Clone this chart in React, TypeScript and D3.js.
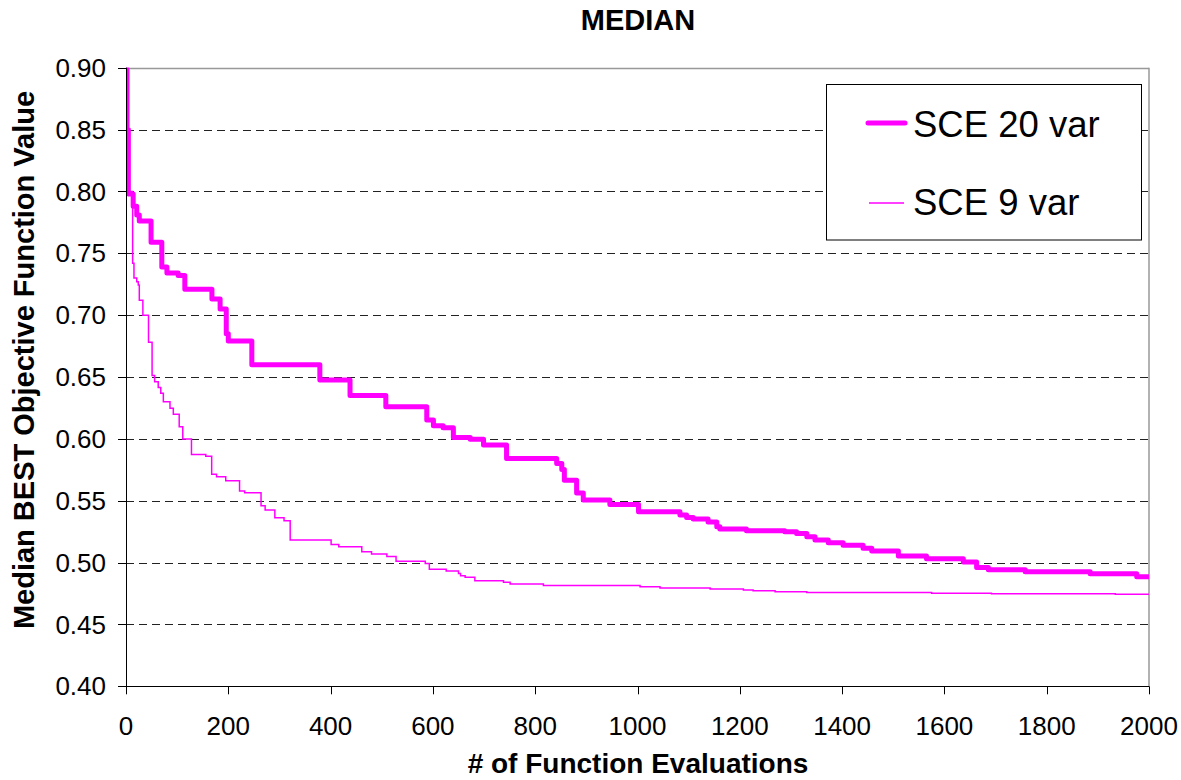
import React from "react";
import * as d3 from "d3";

// SCE 20 var: step starts (evaluations) and median best values
const sce20X = [0, 2, 4.6, 14, 21, 26, 49, 70, 80, 102, 115, 168, 184, 196, 200, 246, 379, 438, 508, 588, 601, 620, 640, 673, 699, 744, 842, 852, 857, 881, 894, 946, 1002, 1083, 1096, 1109, 1138, 1155, 1161, 1213, 1288, 1311, 1331, 1347, 1373, 1402, 1441, 1458, 1510, 1565, 1637, 1663, 1686, 1758, 1885, 1976, 2000];
const sce20Y = [0.9, 0.85, 0.798, 0.788, 0.781, 0.776, 0.759, 0.739, 0.734, 0.732, 0.721, 0.713, 0.705, 0.685, 0.679, 0.66, 0.6475, 0.635, 0.626, 0.6152, 0.6106, 0.609, 0.6012, 0.5996, 0.595, 0.5842, 0.58, 0.5753, 0.5666, 0.5562, 0.5505, 0.547, 0.541, 0.5384, 0.5365, 0.5352, 0.5328, 0.529, 0.5271, 0.5257, 0.525, 0.5236, 0.5209, 0.5182, 0.516, 0.5141, 0.5115, 0.5093, 0.5053, 0.5031, 0.5004, 0.4961, 0.4942, 0.4926, 0.491, 0.4885, 0.4885];

// SCE 9 var
const sce9X = [0, 4, 13, 15.6, 21, 24, 26, 33, 44, 51, 56, 63, 68, 73, 86, 92.5, 104, 111, 128, 156, 167.5, 177, 195, 222, 232, 264, 272, 291, 309, 321, 401, 416, 461, 480, 510, 528, 585, 593, 626, 650, 654, 663, 682, 738, 751, 816, 1005, 1044, 1142, 1207, 1226, 1269, 1331, 1575, 1692, 1934, 2000];
const sce9Y = [0.9, 0.8, 0.742, 0.73, 0.727, 0.7243, 0.712, 0.7, 0.678, 0.6512, 0.6462, 0.6416, 0.6368, 0.63, 0.6247, 0.6198, 0.6098, 0.5999, 0.5874, 0.586, 0.5713, 0.5694, 0.5661, 0.5578, 0.5564, 0.5459, 0.5424, 0.5362, 0.5338, 0.5182, 0.5147, 0.5128, 0.5087, 0.5069, 0.505, 0.5011, 0.4993, 0.4947, 0.4931, 0.4912, 0.4894, 0.4881, 0.4853, 0.4842, 0.4826, 0.4815, 0.4804, 0.4794, 0.4786, 0.4778, 0.4772, 0.4764, 0.4759, 0.4753, 0.4748, 0.4745, 0.4745];

const xTicks = [0, 200, 400, 600, 800, 1000, 1200, 1400, 1600, 1800, 2000];
const yTicks = [0.4, 0.45, 0.5, 0.55, 0.6, 0.65, 0.7, 0.75, 0.8, 0.85, 0.9];

const seriesNames = ["SCE 20 var", "SCE 9 var"];

export default function App() {
  const W = 1181, H = 780;
  const L = 126, R = 1149, T = 67.7, B = 686.3;
  const x = d3.scaleLinear().domain([0, 2000]).range([L, R]);
  const y = d3.scaleLinear().domain([0.4, 0.9]).range([B, T]);
  const line = d3
    .line<[number, number]>()
    .x((d) => x(d[0]))
    .y((d) => y(d[1]))
    .curve(d3.curveStepAfter);
  const d20 = line(sce20X.map((v, i) => [v, sce20Y[i]] as [number, number])) || "";
  const d9 = line(sce9X.map((v, i) => [v, sce9Y[i]] as [number, number])) || "";
  const font = "Liberation Sans, Arial, sans-serif";
  const magenta = "#FF00FF";

  return (
    <svg width={W} height={H} style={{ position: "absolute", left: 0, top: 0, background: "#fff" }} fontFamily={font}>
      <defs>
        <clipPath id="plot">
          <rect x={L} y={T} width={R - L} height={B - T} />
        </clipPath>
      </defs>
      <rect x={0} y={0} width={W} height={H} fill="#fff" />
      {/* gridlines */}
      {yTicks.slice(1, -1).map((t) => (
        <line key={t} x1={L} x2={R} y1={Math.round(y(t)) + 0.5} y2={Math.round(y(t)) + 0.5} stroke="#222" strokeWidth={1} strokeDasharray="8,5" />
      ))}
      {/* plot border top/right */}
      <line x1={L} x2={R} y1={Math.round(T) + 0.5} y2={Math.round(T) + 0.5} stroke="#999" strokeWidth={1.5} />
      <line x1={R} x2={R} y1={T} y2={B} stroke="#999" strokeWidth={1.5} />
      {/* series */}
      <g clipPath="url(#plot)">
        <path d={d9} fill="none" stroke={magenta} strokeWidth={1.5} />
        <path d={d20} fill="none" stroke={magenta} strokeWidth={5} strokeLinejoin="round" />
      </g>
      {/* axes */}
      <line x1={L + 0.5} x2={L + 0.5} y1={T} y2={B} stroke="#000" strokeWidth={1} />
      <line x1={L} x2={R} y1={Math.round(B) + 0.5} y2={Math.round(B) + 0.5} stroke="#000" strokeWidth={1} />
      {yTicks.map((t) => (
        <g key={t}>
          <line x1={L - 8} x2={L} y1={Math.round(y(t)) + 0.5} y2={Math.round(y(t)) + 0.5} stroke="#000" />
          <text x={106} y={y(t)} dy="0.35em" textAnchor="end" fontSize={26}>
            {t.toFixed(2)}
          </text>
        </g>
      ))}
      {xTicks.map((t) => (
        <g key={t}>
          <line x1={Math.round(x(t)) + 0.5} x2={Math.round(x(t)) + 0.5} y1={B} y2={B + 8} stroke="#000" />
          <text x={x(t)} y={735} textAnchor="middle" fontSize={26}>
            {t}
          </text>
        </g>
      ))}
      {/* titles */}
      <text x={638} y={30} textAnchor="middle" fontSize={29} fontWeight="bold">
        MEDIAN
      </text>
      <text x={638} y={773} textAnchor="middle" fontSize={28} fontWeight="bold">
        # of Function Evaluations
      </text>
      <text transform={`translate(34, 360) rotate(-90)`} textAnchor="middle" fontSize={29} fontWeight="bold">
        Median BEST Objective Function Value
      </text>
      {/* legend */}
      <rect x={826.5} y={84.5} width={315} height={155.5} fill="#fff" stroke="#000" strokeWidth={1} />
      <line x1={868} x2={905} y1={123} y2={123} stroke={magenta} strokeWidth={5} strokeLinecap="round" />
      <text x={913} y={137} fontSize={36.5}>
        {seriesNames[0]}
      </text>
      <line x1={869} x2={904} y1={203} y2={203} stroke={magenta} strokeWidth={1.5} />
      <text x={913} y={215} fontSize={36.5}>
        {seriesNames[1]}
      </text>
    </svg>
  );
}
